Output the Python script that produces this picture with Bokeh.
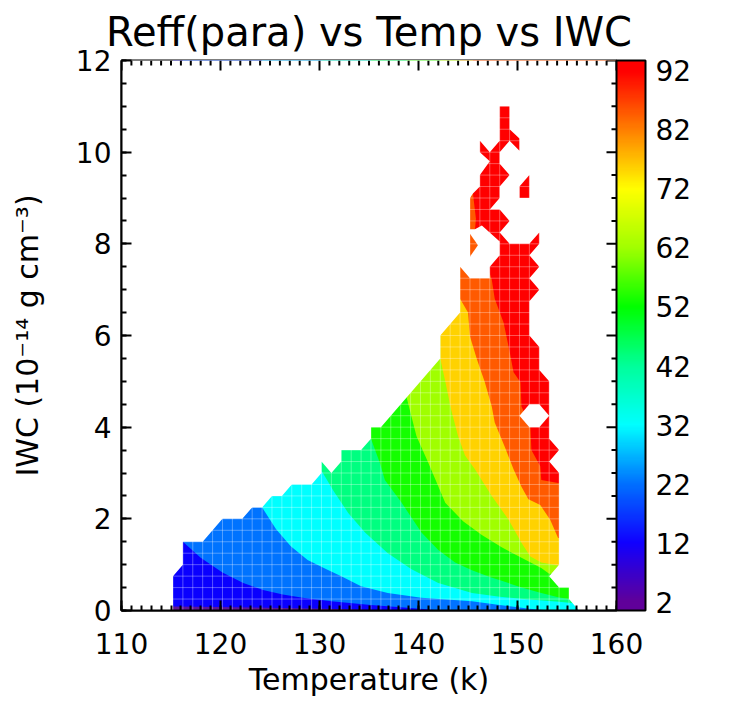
import numpy as np
from bokeh.plotting import figure
from bokeh.models import (SingleIntervalTicker, FixedTicker, ColorBar,
                          LinearColorMapper, Label, Range1d)
from bokeh.embed import file_html
from bokeh.resources import INLINE

# ---------------- data ----------------
# contour levels (effective radius, nm) and fill colour of each band (level -> next level)
levels = [2, 12, 22, 32, 42, 52, 62, 72, 82, 92]
band_colors = ["#5e1496", "#0a00ff", "#0073ff", "#00ffff", "#00ff80",
               "#14ff00", "#a0ff00", "#ffd200", "#ff5a00", "#ff0000"]

# outer edge of the region that holds data (Temperature K, IWC 1e-14 g cm-3)
env_T = [115.2, 115.2, 116.2, 116.2, 118.2, 120.2, 122.2, 123.2, 124.2, 125.2, 126.2,
         127.2, 129.2, 130.2, 130.2, 131.2, 132.2, 132.2, 134.2, 135.2, 135.2, 136.2,
         142.2, 142.2, 144.2, 144.2, 145.2, 147.2, 147.2, 148.2, 148.2, 146.4, 145.7,
         145.2, 145.2, 145.5, 146.2, 146.2, 147.2, 146.2, 146.2, 147.2, 148.2, 148.2,
         149.2, 149.2, 150.2, 150.2, 149.2, 148.2, 148.2, 149.2, 148.2, 148.2, 147.2,
         148.2, 149.2, 148.2, 149.2, 151.2, 152.2, 152.2, 151.2, 152.2, 151.2, 152.2,
         151.2, 151.2, 152.2, 152.2, 153.2, 153.2, 154.2, 153.2, 154.2, 154.2, 153.2,
         154.2, 155.2, 155.2, 156.2]
env_IWC = [0.0, 0.75, 1.0, 1.5, 1.5, 2.0, 2.0, 2.25, 2.25, 2.5, 2.5,
           2.75, 2.75, 3.0, 3.25, 3.0, 3.25, 3.5, 3.5, 3.75, 4.0, 4.0,
           5.5, 6.0, 6.5, 7.5, 7.25, 7.25, 7.5, 7.75, 8.05, 8.4, 8.32,
           8.32, 9.0, 9.1, 9.25, 9.5, 9.8, 10.0, 10.25, 10.0, 10.25, 11.0,
           11.0, 10.5, 10.3, 10.03, 10.25, 10.0, 9.75, 9.5, 9.25, 9.0, 8.75,
           8.75, 8.5, 8.25, 8.0, 8.0, 8.25, 8.0, 7.75, 7.5, 7.25, 7.0,
           6.75, 6.0, 5.75, 5.25, 5.0, 3.75, 3.5, 3.25, 3.0, 1.0, 0.75,
           0.5, 0.5, 0.25, 0.0]

# contour lines: each one separates level L (below-left) from above L (above-right)
c12_T = [115.2, 125.0, 132.0, 137.0]
c12_IWC = [0.09, 0.06, 0.035, 0.0]
c22_T = [116.2, 118.0, 120.2, 122.3, 124.3, 126.3, 128.3, 131.2, 135.2, 140.2, 142.2]
c22_IWC = [1.5, 1.15, 0.83, 0.6, 0.45, 0.35, 0.28, 0.2, 0.12, 0.04, 0.0]
c32_T = [124.2, 125.6, 127.1, 128.8, 130.7, 132.2, 134.2, 136.9, 140.3, 145.4, 148.2, 151.2, 153.2]
c32_IWC = [2.25, 1.78, 1.4, 1.1, 0.9, 0.75, 0.53, 0.38, 0.28, 0.2, 0.12, 0.04, 0.0]
c42_T = [130.2, 131.5, 132.9, 134.6, 136.9, 139.3, 142.0, 145.4, 148.2, 151.2, 154.2, 156.2]
c42_IWC = [3.05, 2.58, 2.13, 1.7, 1.25, 0.9, 0.6, 0.38, 0.3, 0.24, 0.19, 0.15]
c52_T = [135.2, 136.1, 136.6, 138.3, 140.3, 142.0, 143.7, 145.4, 147.2, 148.4, 150.4, 152.4, 154.1, 155.2]
c52_IWC = [3.75, 3.22, 2.85, 2.35, 1.7, 1.32, 1.05, 0.88, 0.73, 0.65, 0.5, 0.38, 0.29, 0.25]
c62_T = [138.8, 139.8, 141.0, 142.7, 144.5, 146.4, 148.4, 150.4, 152.4, 153.2]
c62_IWC = [4.65, 3.8, 3.22, 2.35, 1.95, 1.65, 1.38, 1.15, 0.93, 0.8]
c72_T = [142.2, 142.7, 143.3, 144.0, 144.7, 145.7, 147.4, 149.1, 150.4, 151.3, 152.4, 154.1]
c72_IWC = [5.5, 5.0, 4.38, 3.8, 3.38, 3.08, 2.5, 1.98, 1.48, 1.18, 1.05, 0.98]
c82_T = [144.2, 145.0, 145.2, 145.9, 146.7, 147.4, 147.7, 148.7, 149.6, 150.4, 151.1, 152.3, 153.3, 154.1]
c82_IWC = [6.8, 6.5, 5.98, 5.48, 4.98, 4.45, 4.1, 3.58, 3.08, 2.7, 2.43, 2.3, 1.98, 1.58]
c92_T = [145.5, 145.8, 145.7, 146.5, 147.4, 147.7, 148.6, 149.2, 149.6, 150.3, 150.4, 151.3,
         151.4, 152.3, 152.4, 154.1]
c92_IWC = [9.1, 8.55, 8.3, 7.8, 7.22, 6.8, 6.28, 5.65, 5.2, 4.98, 4.45, 4.03,
           3.5, 3.15, 2.85, 2.78]

# isolated pieces and gaps near the top of the data
red_piece_T = [150.2, 150.2, 151.2, 151.2]
red_piece_IWC = [9.0, 9.25, 9.5, 9.0]
orange_piece_T = [145.2, 145.2, 146.0]
orange_piece_IWC = [7.72, 8.22, 7.97]
gap_T = [150.2, 151.2, 152.2, 153.2, 152.2, 151.2]
gap_IWC = [4.25, 4.5, 4.5, 4.25, 4.0, 4.0]

# data cell edges (faint lines seen inside the filled area)
cell_T = [115.2 + k for k in range(42)]
cell_IWC = [0.25 * k for k in range(1, 45)]

# axis ticks
top_ticks_T = list(range(110, 161))             # mirrored ticks on the top edge
right_ticks_IWC = [0.5 * k for k in range(25)]  # mirrored ticks on the right edge

# colour bar
cbar_ticks = [2, 12, 22, 32, 42, 52, 62, 72, 82, 92]
cbar_anchor_vals = [2, 12, 22, 32, 42, 52, 62, 72, 82, 92]
cbar_anchor_cols = ["#60009a", "#1000ff", "#0070ff", "#00ffff", "#00ff9a",
                    "#00ff00", "#a0ff00", "#ffff00", "#ff8000", "#ff0000"]
cbar_low, cbar_high = 0.65, 93.7

FONT = "DejaVu Sans"
X0, X1, Y0, Y1 = 110, 160, 0, 12

# ---------------- figure ----------------
p = figure(width=746, height=706, x_range=Range1d(X0, X1), y_range=Range1d(Y0, Y1),
           output_backend="svg", toolbar_location=None,
           min_border_left=121, min_border_right=130, min_border_top=60, min_border_bottom=96)
p.xgrid.visible = False
p.ygrid.visible = False
p.outline_line_color = "black"
p.outline_line_width = 2
p.background_fill_color = "white"
p.border_fill_color = "white"

p.title.text = "Reff(para) vs Temp vs IWC"
p.title.align = "center"
p.title.text_font = FONT
p.title.text_font_size = "40px"
p.title.text_font_style = "normal"
p.title.text_color = "black"
p.title.standoff = 12

# filled bands: base region, then each "above level" region
TOP, RIGHT = 20.0, 170.0
contours = [(c12_T, c12_IWC), (c22_T, c22_IWC), (c32_T, c32_IWC), (c42_T, c42_IWC),
            (c52_T, c52_IWC), (c62_T, c62_IWC), (c72_T, c72_IWC), (c82_T, c82_IWC),
            (c92_T, c92_IWC)]
p.patch(env_T, env_IWC, fill_color=band_colors[0], line_color=None)
for k, (ct, ci) in enumerate(contours):
    xs = [ct[0]] + list(ct) + [RIGHT, RIGHT]
    ys = [TOP] + list(ci) + [ci[-1], TOP]
    p.patch(xs, ys, fill_color=band_colors[k + 1], line_color=None)

# white outside the data region
mask_x = [[[100, 170, 170, 100], list(env_T)]]
mask_y = [[[-2, -2, 14, 14], list(env_IWC)]]
p.multi_polygons(xs=[mask_x], ys=[mask_y], fill_color="white", line_color=None)

p.patch(red_piece_T, red_piece_IWC, fill_color=band_colors[9], line_color=None)
p.patch(orange_piece_T, orange_piece_IWC, fill_color=band_colors[8], line_color=None)
p.patch(gap_T, gap_IWC, fill_color="white", line_color=None)

# faint cell edges
p.segment(x0=cell_T, y0=[0] * len(cell_T), x1=cell_T, y1=[11.25] * len(cell_T),
          line_color="white", line_alpha=0.33, line_width=1)
p.segment(x0=[cell_T[0]] * len(cell_IWC), y0=cell_IWC, x1=[cell_T[-1]] * len(cell_IWC),
          y1=cell_IWC, line_color="white", line_alpha=0.33, line_width=1)

# mirrored inward ticks on top and right edges (10 px major, 5 px minor)
frame_w, frame_h = 746 - 121 - 130, 706 - 60 - 96
px_T = (X1 - X0) / frame_w
px_I = (Y1 - Y0) / frame_h
top_len = [(10 if t % 10 == 0 else 5) * px_I for t in top_ticks_T]
p.segment(x0=top_ticks_T, y0=[Y1] * len(top_ticks_T), x1=top_ticks_T,
          y1=[Y1 - L for L in top_len], line_color="black", line_width=2)
right_len = [(10 if v % 2 == 0 else 5) * px_T for v in right_ticks_IWC]
p.segment(x0=[X1] * len(right_ticks_IWC), y0=right_ticks_IWC,
          x1=[X1 - L for L in right_len], y1=right_ticks_IWC, line_color="black", line_width=2)

# axes
def style_axis(ax):
    ax.axis_line_width = 2
    ax.axis_line_color = "black"
    ax.major_tick_line_width = 2
    ax.minor_tick_line_width = 2
    ax.major_tick_line_color = "black"
    ax.minor_tick_line_color = "black"
    ax.major_tick_in = 10
    ax.major_tick_out = 0
    ax.minor_tick_in = 5
    ax.minor_tick_out = 0
    ax.major_label_text_font = FONT
    ax.major_label_text_font_size = "28px"
    ax.major_label_text_color = "black"
    ax.axis_label_text_font = FONT
    ax.axis_label_text_font_size = "30px"
    ax.axis_label_text_font_style = "normal"
    ax.axis_label_text_color = "black"

p.xaxis.ticker = SingleIntervalTicker(interval=10, num_minor_ticks=10)
p.yaxis.ticker = SingleIntervalTicker(interval=2, num_minor_ticks=4)
style_axis(p.xaxis[0])
style_axis(p.yaxis[0])
p.xaxis.axis_label = "Temperature (k)"
p.yaxis.axis_label = "IWC (10\u207b\u00b9\u2074 g cm\u207b\u00b3)"
p.xaxis.major_label_standoff = 22
p.xaxis.axis_label_standoff = 5
p.yaxis.major_label_standoff = 10
p.yaxis.axis_label_standoff = 28

# colour bar
def hex2rgb(h):
    return [int(h[i:i + 2], 16) for i in (1, 3, 5)]
anchors = np.array([hex2rgb(c) for c in cbar_anchor_cols], dtype=float)
vals = np.linspace(cbar_low, cbar_high, 256)
pal = []
for v in vals:
    rgb = [np.interp(v, cbar_anchor_vals, anchors[:, c]) for c in range(3)]
    pal.append("#%02x%02x%02x" % tuple(int(round(x)) for x in rgb))
mapper = LinearColorMapper(palette=pal, low=cbar_low, high=cbar_high)
cb = ColorBar(color_mapper=mapper, ticker=FixedTicker(ticks=cbar_ticks), width=29,
              margin=0, padding=0, bar_line_color="black", bar_line_width=2,
              major_tick_line_color=None, minor_tick_line_color=None,
              major_label_text_font=FONT, major_label_text_font_size="28px",
              major_label_text_color="black",
              label_standoff=10, border_line_color=None, background_fill_color=None)
p.add_layout(cb, "right")

cb_title = Label(x=598, y=260, x_units="screen", y_units="screen",
                 text="Effective Radius (nm)", angle=np.pi / 2,
                 text_align="center", text_baseline="middle",
                 text_font=FONT, text_font_size="32px", text_color="black")
p.add_layout(cb_title)

open("out.html", "w").write(file_html(p, INLINE))
